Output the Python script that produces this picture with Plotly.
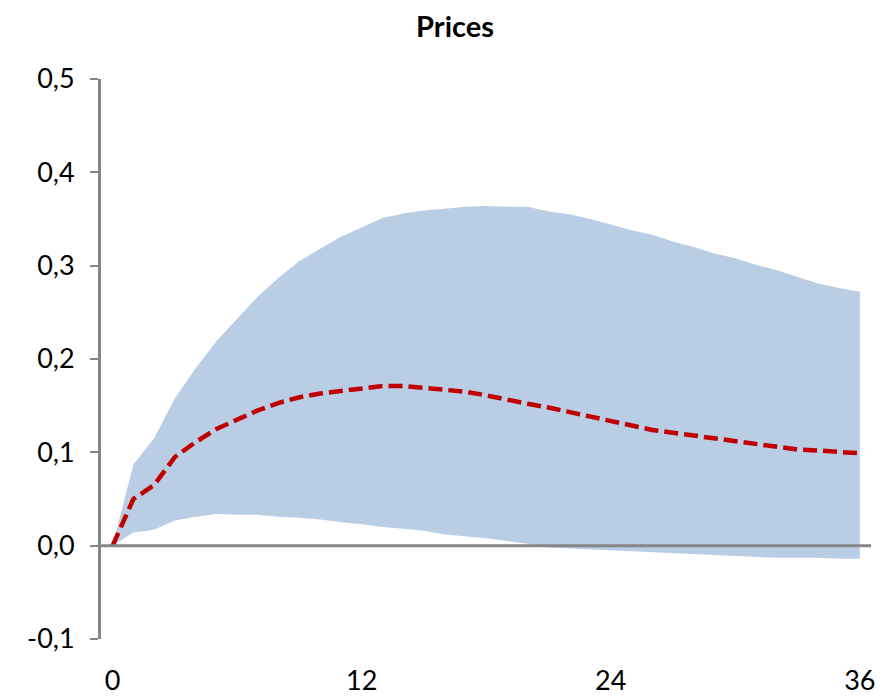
import plotly.graph_objects as go

months = list(range(0, 37))
mean_resp = [0.0, 0.050, 0.065, 0.095, 0.111, 0.125, 0.135, 0.145, 0.153, 0.159, 0.163,
             0.166, 0.169, 0.171, 0.171, 0.169, 0.168, 0.165, 0.161, 0.156, 0.152,
             0.148, 0.143, 0.138, 0.133, 0.128, 0.124, 0.121, 0.118, 0.115, 0.112,
             0.108, 0.105, 0.103, 0.102, 0.100, 0.099]
upper_band = [0.0, 0.087, 0.115, 0.158, 0.190, 0.219, 0.243, 0.267, 0.287, 0.305, 0.318,
              0.331, 0.341, 0.351, 0.356, 0.359, 0.361, 0.363, 0.364, 0.363, 0.363,
              0.358, 0.355, 0.350, 0.344, 0.338, 0.333, 0.326, 0.320, 0.313, 0.308,
              0.301, 0.295, 0.288, 0.281, 0.276, 0.272]
lower_band = [0.0, 0.014, 0.017, 0.027, 0.031, 0.034, 0.033, 0.033, 0.031, 0.030, 0.028,
              0.025, 0.023, 0.020, 0.018, 0.016, 0.012, 0.010, 0.008, 0.005, 0.002,
              -0.002, -0.003, -0.004, -0.005, -0.006, -0.007, -0.008, -0.009, -0.010, -0.011,
              -0.012, -0.013, -0.013, -0.013, -0.014, -0.014]

y_tickvals = [-0.1, 0.0, 0.1, 0.2, 0.3, 0.4, 0.5]
y_ticktext = ["-0,1", "0,0", "0,1", "0,2", "0,3", "0,4", "0,5"]
x_tickvals = [0, 12, 24, 36]
x_ticktext = ["0", "12", "24", "36"]

FONT = "Lato, 'Open Sans', sans-serif"
GRAY = "#868686"
TICK_SIZE = 27

fig = go.Figure()
fig.add_trace(go.Scatter(x=months, y=lower_band, mode="lines",
                         line=dict(width=0, color="#B9CDE5"), showlegend=False,
                         hoverinfo="skip"))
fig.add_trace(go.Scatter(x=months, y=upper_band, mode="lines", fill="tonexty",
                         fillcolor="#B9CDE5", line=dict(width=0, color="#B9CDE5"),
                         showlegend=False, hoverinfo="skip"))
fig.add_trace(go.Scatter(x=months, y=mean_resp, mode="lines",
                         line=dict(color="#C00000", width=4.5, dash="14px,6px"),
                         showlegend=False))

fig.add_shape(type="line", xref="paper", yref="y", x0=0, x1=1, y0=0, y1=0,
              line=dict(color=GRAY, width=3), layer="above")

fig.update_layout(
    width=893, height=700,
    margin=dict(l=93, r=30, t=71, b=61),
    paper_bgcolor="white", plot_bgcolor="white",
    title=dict(text="<b>Prices</b>", x=0.5006, xanchor="center", y=0.973, yanchor="middle",
               font=dict(family=FONT, size=29, color="black")),
    font=dict(family=FONT, size=TICK_SIZE, color="black"),
    xaxis=dict(range=[-0.56, 36.54], tickvals=x_tickvals, ticktext=x_ticktext,
               showgrid=False, zeroline=False, showline=False, ticks="",
               tickfont=dict(family=FONT, size=TICK_SIZE, color="black"), ticklabelstandoff=23),
    yaxis=dict(range=[-0.1, 0.5], tickvals=y_tickvals, ticktext=y_ticktext,
               showgrid=False, zeroline=False, showline=True, linecolor=GRAY, linewidth=3,
               ticks="outside", ticklen=8, tickwidth=2, tickcolor=GRAY,
               tickfont=dict(family=FONT, size=TICK_SIZE, color="black"), ticklabelstandoff=10),
)

fig.write_html("out.html")
